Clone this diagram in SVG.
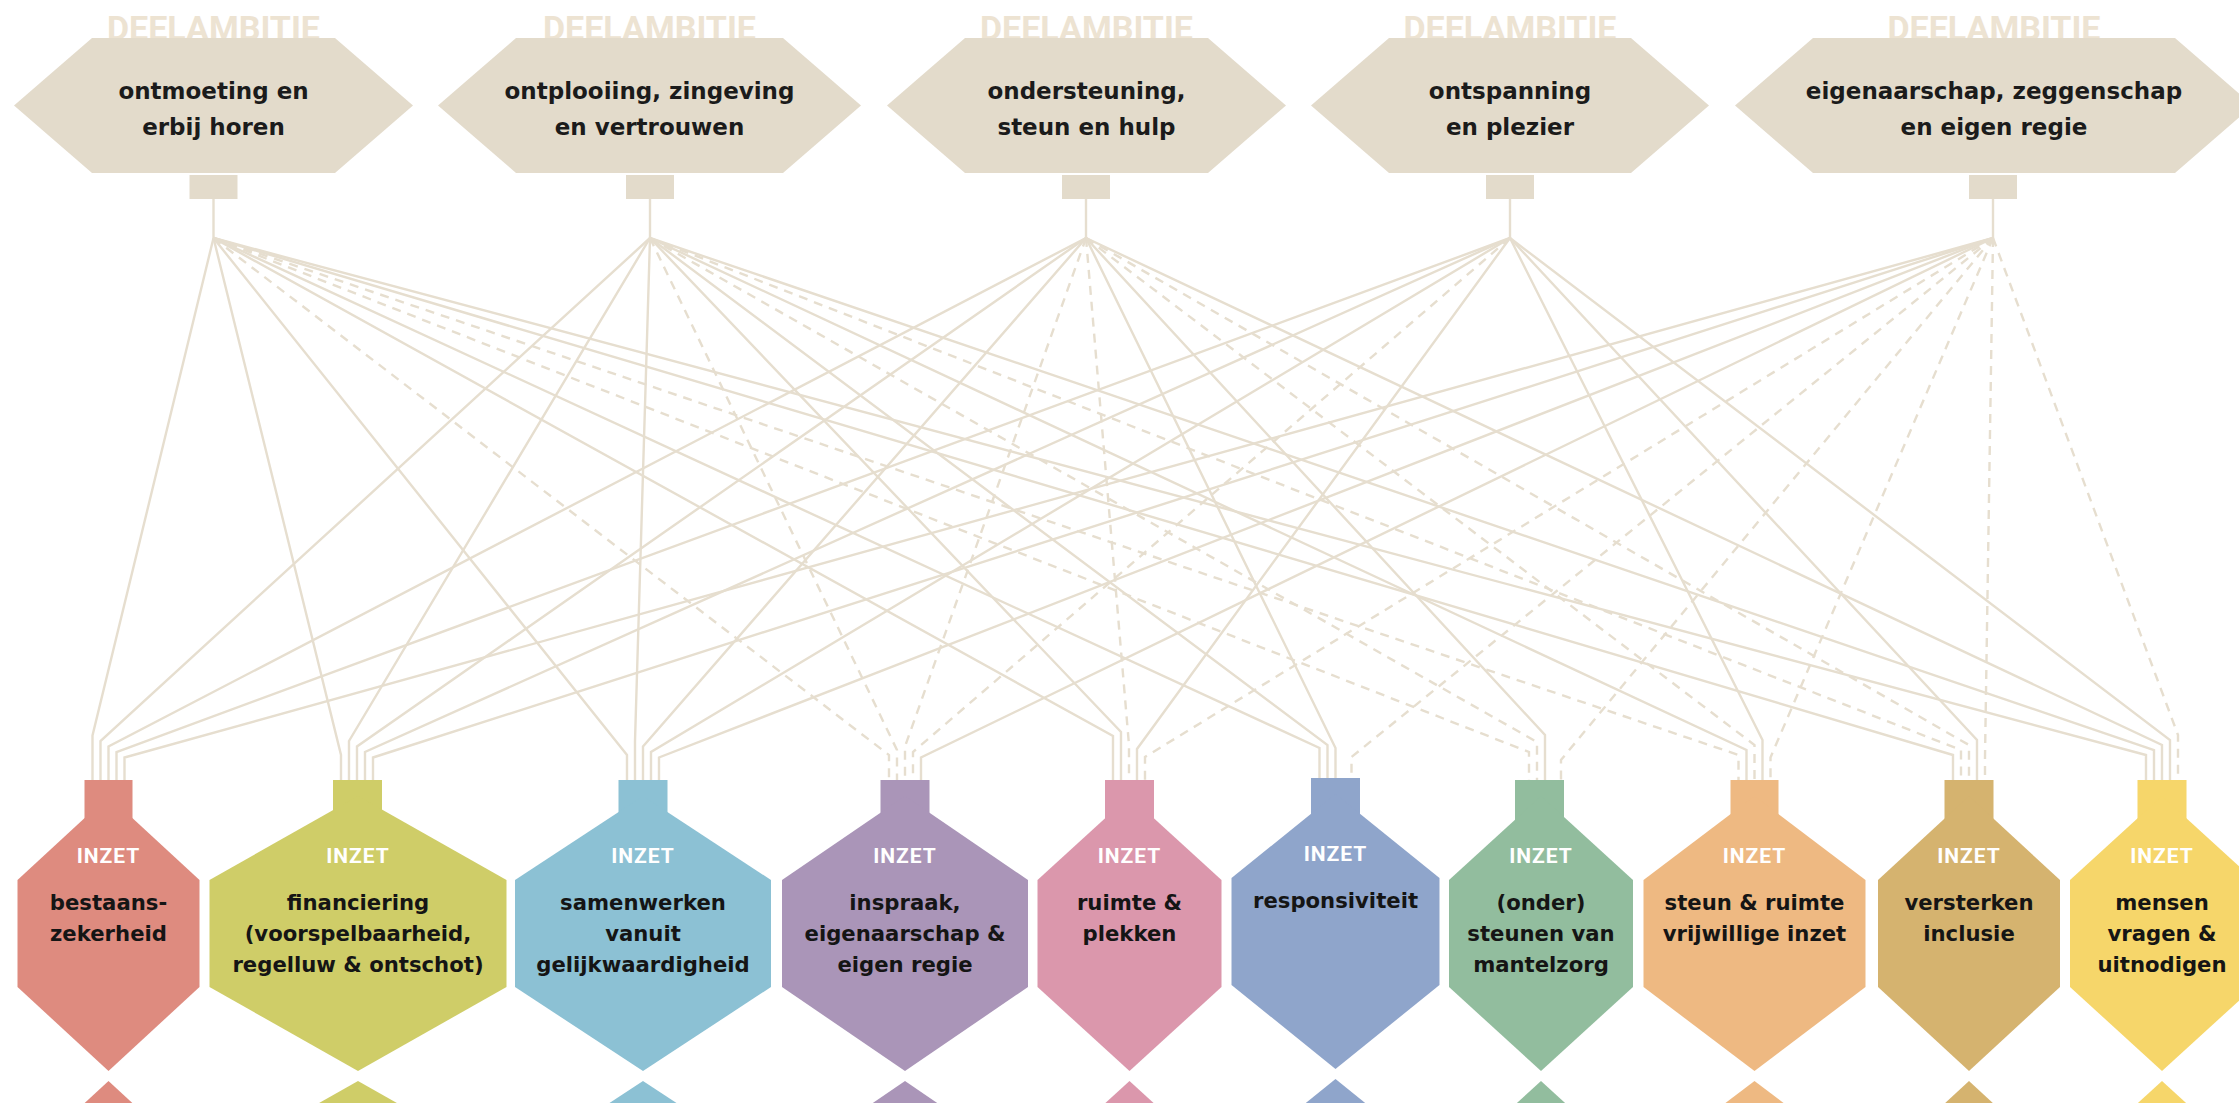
<svg xmlns="http://www.w3.org/2000/svg" width="2239" height="1103" viewBox="0 0 2239 1103">
<style>
.bg{fill:#ffffff}
.amb{fill:#E3DBCB}
.lbl{font-family:Roboto,"Liberation Sans",sans-serif;font-weight:700;font-size:34px;fill:#EDE3D2;text-anchor:middle}
.tt{font-family:"DejaVu Sans",sans-serif;font-weight:700;font-size:23px;fill:#1B1B1B;text-anchor:middle}
.bt{font-family:"DejaVu Sans",sans-serif;font-weight:700;font-size:21.2px;fill:#151515;text-anchor:middle}
.inz{font-family:Roboto,"Liberation Sans",sans-serif;font-weight:700;font-size:21px;fill:#ffffff;text-anchor:middle;letter-spacing:1px}
.s{fill:none;stroke:#E6DECF;stroke-width:2.4}
.d{fill:none;stroke:#E6DECF;stroke-width:2.4;stroke-dasharray:9 7}
</style>
<rect class="bg" x="0" y="0" width="2239" height="1103"/>

<g id="connectors">
<line class="s" x1="213.5" y1="199" x2="213.5" y2="238"/>
<line class="s" x1="650" y1="199" x2="650" y2="238"/>
<line class="s" x1="1086" y1="199" x2="1086" y2="238"/>
<line class="s" x1="1510" y1="199" x2="1510" y2="238"/>
<line class="s" x1="1993" y1="199" x2="1993" y2="238"/>
<!-- B1 -->
<polyline class="s" points="213.5,238 92.5,735.5 92.5,780"/>
<polyline class="s" points="650,238 100.5,741 100.5,780"/>
<polyline class="s" points="1086,238 108.5,746.5 108.5,780"/>
<polyline class="s" points="1510,238 116.5,752 116.5,780"/>
<polyline class="s" points="1993,238 124.5,757.5 124.5,780"/>
<!-- B2 -->
<polyline class="s" points="213.5,238 341,755 341,780"/>
<polyline class="s" points="650,238 349,741 349,780"/>
<polyline class="s" points="1086,238 357,746.5 357,780"/>
<polyline class="s" points="1510,238 365,752 365,780"/>
<polyline class="s" points="1993,238 373,757.5 373,780"/>
<!-- B3 -->
<polyline class="s" points="213.5,238 627,755 627,780"/>
<polyline class="s" points="650,238 635,741 635,780"/>
<polyline class="s" points="1086,238 643,746.5 643,780"/>
<polyline class="s" points="1510,238 651,752 651,780"/>
<polyline class="s" points="1993,238 659,757.5 659,780"/>
<!-- B4 -->
<polyline class="d" points="213.5,238 889,755 889,780"/>
<polyline class="d" points="650,238 897,750 897,780"/>
<polyline class="d" points="1086,238 905,746.5 905,780"/>
<polyline class="d" points="1510,238 913,752 913,780"/>
<polyline class="s" points="1993,238 921,757.5 921,780"/>
<!-- B5 -->
<polyline class="s" points="213.5,238 1113,736 1113,780"/>
<polyline class="s" points="650,238 1121,732 1121,780"/>
<polyline class="d" points="1086,238 1129,745 1129,780"/>
<polyline class="s" points="1510,238 1137,749 1137,780"/>
<polyline class="d" points="1993,238 1145,757 1145,780"/>
<!-- B6 -->
<polyline class="s" points="213.5,238 1319.5,748 1319.5,778"/>
<polyline class="s" points="650,238 1327.5,745 1327.5,778"/>
<polyline class="s" points="1086,238 1335.5,748 1335.5,778"/>
<polyline class="d" points="1993,238 1351.5,757 1351.5,778"/>
<!-- B7 -->
<polyline class="d" points="213.5,238 1529,752 1529,780"/>
<polyline class="d" points="650,238 1537,742 1537,780"/>
<polyline class="s" points="1086,238 1545,735 1545,780"/>
<polyline class="d" points="1993,238 1561,760 1561,780"/>
<!-- B8 -->
<polyline class="d" points="213.5,238 1738.5,755 1738.5,780"/>
<polyline class="s" points="650,238 1746.5,750 1746.5,780"/>
<polyline class="d" points="1086,238 1754.5,745 1754.5,780"/>
<polyline class="s" points="1510,238 1762.5,740 1762.5,780"/>
<polyline class="d" points="1993,238 1770.5,757.5 1770.5,780"/>
<!-- B9 -->
<polyline class="s" points="213.5,238 1953,755 1953,780"/>
<polyline class="d" points="650,238 1961,750 1961,780"/>
<polyline class="d" points="1086,238 1969,745 1969,780"/>
<polyline class="s" points="1510,238 1977,740 1977,780"/>
<polyline class="d" points="1993,238 1985,757 1985,780"/>
<!-- B10 -->
<polyline class="s" points="213.5,238 2146,755 2146,780"/>
<polyline class="s" points="650,238 2154,750 2154,780"/>
<polyline class="s" points="1086,238 2162,745 2162,780"/>
<polyline class="s" points="1510,238 2170,740 2170,780"/>
<polyline class="d" points="1993,238 2178,735 2178,780"/>
</g>

<g id="ambitie1">
<text class="lbl" x="213.5" y="40">DEELAMBITIE</text>
<polygon class="amb" points="14,105.5 92,38 335,38 413,105.5 335,173 92,173"/>
<rect class="amb" x="189.5" y="175" width="48" height="24"/>
<text class="tt" x="213.5" y="99">ontmoeting en</text>
<text class="tt" x="213.5" y="135">erbij horen</text>
</g>
<g id="ambitie2">
<text class="lbl" x="649.5" y="40">DEELAMBITIE</text>
<polygon class="amb" points="438,105.5 516,38 783,38 861,105.5 783,173 516,173"/>
<rect class="amb" x="626" y="175" width="48" height="24"/>
<text class="tt" x="649.5" y="99">ontplooiing, zingeving</text>
<text class="tt" x="649.5" y="135">en vertrouwen</text>
</g>
<g id="ambitie3">
<text class="lbl" x="1086.5" y="40">DEELAMBITIE</text>
<polygon class="amb" points="887,105.5 965,38 1208,38 1286,105.5 1208,173 965,173"/>
<rect class="amb" x="1062" y="175" width="48" height="24"/>
<text class="tt" x="1086.5" y="99">ondersteuning,</text>
<text class="tt" x="1086.5" y="135">steun en hulp</text>
</g>
<g id="ambitie4">
<text class="lbl" x="1510" y="40">DEELAMBITIE</text>
<polygon class="amb" points="1311,105.5 1389,38 1631,38 1709,105.5 1631,173 1389,173"/>
<rect class="amb" x="1486" y="175" width="48" height="24"/>
<text class="tt" x="1510" y="99">ontspanning</text>
<text class="tt" x="1510" y="135">en plezier</text>
</g>
<g id="ambitie5">
<text class="lbl" x="1994" y="40">DEELAMBITIE</text>
<polygon class="amb" points="1735,105.5 1813,38 2175,38 2253,105.5 2175,173 1813,173"/>
<rect class="amb" x="1969" y="175" width="48" height="24"/>
<text class="tt" x="1994" y="99">eigenaarschap, zeggenschap</text>
<text class="tt" x="1994" y="135">en eigen regie</text>
</g>

<g id="inzet1" fill="#DE8B7F">
<rect x="84.5" y="780" width="48" height="50"/>
<polygon points="108.5,796 199.5,880 199.5,987 108.5,1071 17.5,987 17.5,880"/>
<text class="inz" x="108.5" y="863">INZET</text>
<text class="bt" x="108.5" y="910">bestaans-</text>
<text class="bt" x="108.5" y="941">zekerheid</text>
</g>
<g id="inzet2" fill="#CFCD68">
<rect x="333" y="780" width="49" height="50"/>
<polygon points="358,796 506.5,880 506.5,987 358,1071 209.5,987 209.5,880"/>
<text class="inz" x="358" y="863">INZET</text>
<text class="bt" x="358" y="910">financiering</text>
<text class="bt" x="358" y="941">(voorspelbaarheid,</text>
<text class="bt" x="358" y="972">regelluw &amp; ontschot)</text>
</g>
<g id="inzet3" fill="#8CC1D4">
<rect x="618.5" y="780" width="49" height="50"/>
<polygon points="643,796 771,880 771,987 643,1071 515,987 515,880"/>
<text class="inz" x="643" y="863">INZET</text>
<text class="bt" x="643" y="910">samenwerken</text>
<text class="bt" x="643" y="941">vanuit</text>
<text class="bt" x="643" y="972">gelijkwaardigheid</text>
</g>
<g id="inzet4" fill="#AA95B8">
<rect x="880.5" y="780" width="49" height="50"/>
<polygon points="905,796 1028,880 1028,987 905,1071 782,987 782,880"/>
<text class="inz" x="905" y="863">INZET</text>
<text class="bt" x="905" y="910">inspraak,</text>
<text class="bt" x="905" y="941">eigenaarschap &amp;</text>
<text class="bt" x="905" y="972">eigen regie</text>
</g>
<g id="inzet5" fill="#DB97AC">
<rect x="1105" y="780" width="49" height="50"/>
<polygon points="1129.5,796 1221.5,880 1221.5,987 1129.5,1071 1037.5,987 1037.5,880"/>
<text class="inz" x="1129.5" y="863">INZET</text>
<text class="bt" x="1129.5" y="910">ruimte &amp;</text>
<text class="bt" x="1129.5" y="941">plekken</text>
</g>
<g id="inzet6" fill="#8FA5CB">
<rect x="1311" y="778" width="49" height="50"/>
<polygon points="1335.5,794 1439.5,878 1439.5,985 1335.5,1069 1231.5,985 1231.5,878"/>
<text class="inz" x="1335.5" y="861">INZET</text>
<text class="bt" x="1335.5" y="908">responsiviteit</text>
</g>
<g id="inzet7" fill="#92BD9E">
<rect x="1515" y="780" width="49" height="50"/>
<polygon points="1541,796 1633,880 1633,987 1541,1071 1449,987 1449,880"/>
<text class="inz" x="1541" y="863">INZET</text>
<text class="bt" x="1541" y="910">(onder)</text>
<text class="bt" x="1541" y="941">steunen van</text>
<text class="bt" x="1541" y="972">mantelzorg</text>
</g>
<g id="inzet8" fill="#EEB982">
<rect x="1730.5" y="780" width="48" height="50"/>
<polygon points="1754.5,796 1865.5,880 1865.5,987 1754.5,1071 1643.5,987 1643.5,880"/>
<text class="inz" x="1754.5" y="863">INZET</text>
<text class="bt" x="1754.5" y="910">steun &amp; ruimte</text>
<text class="bt" x="1754.5" y="941">vrijwillige inzet</text>
</g>
<g id="inzet9" fill="#D5B36F">
<rect x="1944.5" y="780" width="49" height="50"/>
<polygon points="1969,796 2060,880 2060,987 1969,1071 1878,987 1878,880"/>
<text class="inz" x="1969" y="863">INZET</text>
<text class="bt" x="1969" y="910">versterken</text>
<text class="bt" x="1969" y="941">inclusie</text>
</g>
<g id="inzet10" fill="#F6D66A">
<rect x="2137.5" y="780" width="49" height="50"/>
<polygon points="2162,796 2254,880 2254,987 2162,1071 2070,987 2070,880"/>
<text class="inz" x="2162" y="863">INZET</text>
<text class="bt" x="2162" y="910">mensen</text>
<text class="bt" x="2162" y="941">vragen &amp;</text>
<text class="bt" x="2162" y="972">uitnodigen</text>
</g>

<g id="row2">
<polygon fill="#DE8B7F" points="108.5,1081 199.5,1165 17.5,1165"/>
<polygon fill="#CFCD68" points="358,1081 506.5,1165 209.5,1165"/>
<polygon fill="#8CC1D4" points="643,1081 771,1165 515,1165"/>
<polygon fill="#AA95B8" points="905,1081 1028,1165 782,1165"/>
<polygon fill="#DB97AC" points="1129.5,1081 1221.5,1165 1037.5,1165"/>
<polygon fill="#8FA5CB" points="1335.5,1079 1439.5,1163 1231.5,1163"/>
<polygon fill="#92BD9E" points="1541,1081 1633,1165 1449,1165"/>
<polygon fill="#EEB982" points="1754.5,1081 1865.5,1165 1643.5,1165"/>
<polygon fill="#D5B36F" points="1969,1081 2060,1165 1878,1165"/>
<polygon fill="#F6D66A" points="2162,1081 2254,1165 2070,1165"/>
</g>
</svg>
